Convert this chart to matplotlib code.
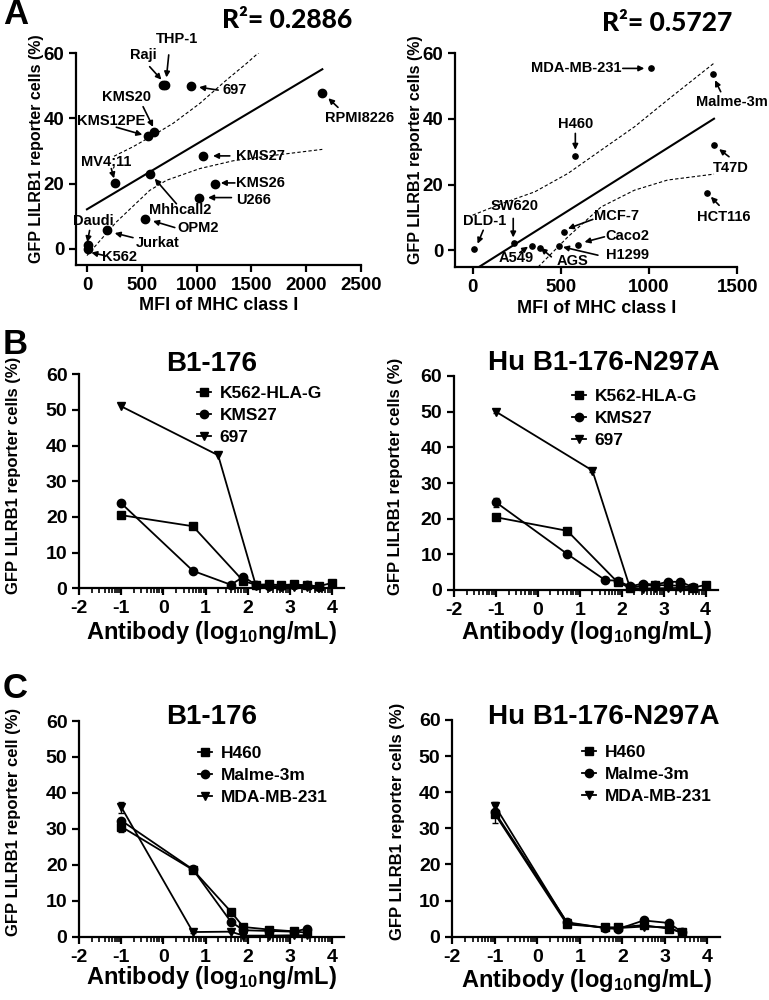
import numpy as np
import matplotlib
matplotlib.use('Agg')
import matplotlib.pyplot as plt
from matplotlib.lines import Line2D
from matplotlib.ticker import FixedLocator

plt.rcParams['font.family'] = ['Liberation Sans', 'DejaVu Sans']
plt.rcParams['font.weight'] = 'bold'
plt.rcParams['axes.labelweight'] = 'bold'
plt.rcParams['axes.titleweight'] = 'bold'
plt.rcParams['axes.unicode_minus'] = False
plt.rcParams['mathtext.fontset'] = 'custom'
plt.rcParams['mathtext.rm'] = 'Liberation Sans:bold'
plt.rcParams['mathtext.bf'] = 'Liberation Sans:bold'
plt.rcParams['mathtext.it'] = 'Liberation Sans:bold'

# ---------------- Panel A data ----------------
heme_names = ['Daudi', 'K562', 'Jurkat', 'OPM2', 'Mhhcall2', 'MV4;11', 'KMS12PE', 'KMS20',
              'Raji', 'THP-1', '697', 'RPMI8226', 'KMS27', 'KMS26', 'U266']
heme_mfi = [10, 5, 183, 533, 578, 259, 554, 609, 691, 716, 953, 2147, 1060, 1166, 1023]
heme_gfp = [1.0, 0.0, 5.6, 9.0, 22.9, 20.2, 34.7, 35.7, 50.2, 50.2, 49.9, 47.9, 28.5, 20.0, 15.7]
heme_fit = (12.1, 0.02003)       # intercept, slope
heme_fit_x = [0, 2147]
heme_r2 = '0.2886'
heme_band_up_x = [247, 420, 633, 786, 1029, 1273, 1456, 1577]
heme_band_up_y = [28.4, 31.3, 35.4, 38.5, 44.6, 51.8, 56.9, 60.5]
heme_band_lo_x = [0, 268, 572, 725, 1029, 1334, 1638, 2147]
heme_band_lo_y = [-2.1, 8.2, 17.9, 21.0, 24.6, 27.0, 28.4, 30.5]

solid_names = ['DLD-1', 'SW620', 'A549', 'AGS', 'H1299', 'MCF-7', 'Caco2', 'H460',
               'MDA-MB-231', 'Malme-3m', 'T47D', 'HCT116']
solid_mfi = [6, 235, 335, 384, 491, 516, 597, 582, 1011, 1365, 1370, 1327]
solid_gfp = [0.5, 2.3, 1.2, 0.8, 1.4, 5.6, 1.7, 28.8, 55.4, 53.6, 32.2, 17.5]
solid_fit = (-6.3, 0.0339)
solid_fit_x = [0, 1368]
solid_r2 = '0.5727'
solid_band_up_x = [0, 164, 352, 540, 728, 917, 1105, 1368]
solid_band_up_y = [10.7, 14.2, 17.8, 23.4, 30.5, 37.6, 45.8, 57.0]
solid_band_lo_x = [371, 540, 728, 917, 1105, 1368]
solid_band_lo_y = [-5.1, 4.1, 13.2, 18.3, 21.4, 23.2]

# ---------------- Panel B data ----------------
b_labels = ['K562-HLA-G', 'KMS27', '697']
b1_x = [[-1, 0.7, 1.9, 2.2, 2.5, 2.8, 3.1, 3.4, 3.7, 4.0],
        [-1, 0.7, 1.6, 1.9, 2.2, 2.5, 2.8, 3.1, 3.4, 3.7],
        [-1, 1.3, 2.2, 2.5, 2.8, 3.1, 3.4, 3.7]]
b1_y = [[20.5, 17.4, 2.0, 1.0, 1.1, 0.9, 1.1, 0.8, 0.6, 1.5],
        [23.8, 4.9, 1.0, 3.2, 1.0, 0.6, 0.6, 0.8, 0.9, 0.4],
        [51.0, 37.3, 0.6, 0.4, 0.4, 0.5, 0.5, 0.4]]
b2_x = b1_x
b2_y = [[20.4, 16.6, 2.2, 0.6, 1.2, 1.4, 1.3, 1.2, 0.7, 1.4],
        [24.6, 10.1, 2.8, 2.6, 1.0, 1.8, 1.5, 2.3, 2.3, 0.8],
        [50.0, 33.5, 0.5, 0.4, 0.5, 0.5, 0.6, 0.5]]
b2_err = [[0.4, 0.3, 0.2, 0.1, 0.1, 0.1, 0.1, 0.1, 0.1, 0.1],
          [1.3, 0.4, 0.2, 0.2, 0.1, 0.1, 0.1, 0.1, 0.1, 0.1],
          [0.5, 0.4, 0.1, 0.1, 0.1, 0.1, 0.1, 0.1]]

# ---------------- Panel C data ----------------
c_labels = ['H460', 'Malme-3m', 'MDA-MB-231']
c_x = [-1, 0.7, 1.6, 1.9, 2.5, 3.1, 3.4]
c1_y = [[30.6, 18.6, 7.0, 2.7, 2.0, 1.5, 1.1],
        [32.3, 18.7, 4.2, 1.8, 1.6, 1.4, 2.2],
        [36.0, 1.3, 1.4, 0.3, 0.3, 0.4, 0.4]]
c1_err = [[1.5, 0.3, 0.3, 0.2, 0.1, 0.1, 0.1],
          [0.5, 0.3, 0.3, 0.1, 0.1, 0.1, 0.1],
          [1.5, 0.2, 0.2, 0.1, 0.1, 0.1, 0.1]]
c2_y = [[34.0, 3.4, 2.6, 2.6, 3.2, 2.2, 1.2],
        [34.5, 4.0, 2.4, 2.1, 4.5, 3.8, 1.3],
        [36.3, 3.8, 2.4, 2.4, 2.8, 2.6, 1.0]]
c2_err = [[2.5, 0.3, 0.2, 0.2, 0.2, 0.2, 0.1],
          [0.5, 0.3, 0.2, 0.2, 0.3, 0.3, 0.1],
          [1.0, 0.3, 0.2, 0.2, 0.2, 0.2, 0.1]]

# ---------------- layout ----------------
W, H = 769, 1000
fig = plt.figure(figsize=(7.69, 10), dpi=100)


def px(x0, y0, x1, y1):
    return [x0 / W, 1 - y1 / H, (x1 - x0) / W, (y1 - y0) / H]


SP_LW = 1.6


def base_style(ax):
    for s in ['top', 'right']:
        ax.spines[s].set_visible(False)
    for s in ['left', 'bottom']:
        ax.spines[s].set_linewidth(SP_LW)
    ax.tick_params(which='major', direction='out', width=SP_LW, length=5)
    ax.tick_params(which='minor', direction='out', width=1.2, length=3.5)


arrow_kw = dict(arrowstyle='-|>', color='k', lw=1.2, mutation_scale=8,
                shrinkA=0, shrinkB=0)

# ---- A left ----
axA1 = fig.add_axes(px(76, 53.3, 361, 265))
base_style(axA1)
axA1.set_xlim(-100, 2500)
axA1.set_ylim(-5, 60)
axA1.set_xticks([0, 500, 1000, 1500, 2000, 2500])
axA1.set_yticks([0, 20, 40, 60])
axA1.tick_params(labelsize=13.5)
axA1.plot(heme_mfi, heme_gfp, 'o', color='k', ms=6, clip_on=False, zorder=3)
fx = np.array(heme_fit_x)
axA1.plot(fx, heme_fit[0] + heme_fit[1] * fx, color='k', lw=1.5)
axA1.plot(heme_band_up_x, heme_band_up_y, color='k', lw=0.8, ls=(0, (3, 2)))
axA1.plot(heme_band_lo_x, heme_band_lo_y, color='k', lw=0.8, ls=(0, (3, 2)))
axA1.set_xlabel('MFI of MHC class I', fontsize=13)
axA1.xaxis.set_label_coords(0.5, -0.189)
axA1.xaxis.label.set_va('center')
axA1.set_ylabel('GFP LILRB1 reporter cells (%)', fontsize=11.5)
axA1.yaxis.set_label_coords(-0.112, 0.55)
axA1.text(0.74, 1.155, 'R²= ' + heme_r2, transform=axA1.transAxes, ha='center',
          va='center', fontsize=19, family=['Lato', 'DejaVu Sans'], weight='black')

heme_ann = {
    'THP-1': ((825, 64.3), (746, 59.5), (725, 52.6)),
    'Raji': ((512, 59.5), (572, 55.9), (679, 51.9)),
    '697': ((1349, 48.7), (1197, 48.7), (1023, 49.6)),
    'RPMI8226': ((2491, 40.0), (2290, 43.4), (2202, 46.2)),
    'KMS20': ((359, 46.7), (512, 43.6), (603, 37.4)),
    'KMS12PE': ((222, 39.3), (268, 37.3), (505, 35.0)),
    'MV4;11': ((177, 26.9), (222, 24.6), (247, 21.6)),
    'KMS27': ((1583, 28.5), (1303, 28.5), (1150, 28.5)),
    'KMS26': ((1587, 20.2), (1349, 20.2), (1221, 20.2)),
    'U266': ((1516, 14.9), (1318, 15.7), (1105, 15.7)),
    'Mhhcall2': ((847, 11.8), (816, 13.8), (618, 21.5)),
    'OPM2': ((1014, 6.5), (801, 6.5), (603, 8.5)),
    'Jurkat': ((649, 1.8), (420, 3.4), (253, 4.8)),
    'Daudi': ((55, 8.4), (24, 5.6), (3, 2.0)),
    'K562': ((298, -2.4), (161, -2.1), (40, -1.2)),
}
for name in heme_names:
    tpos, tail, tip = heme_ann[name]
    axA1.text(tpos[0], tpos[1], name, ha='center', va='center', fontsize=10.5, clip_on=False)
    axA1.annotate('', xy=tip, xytext=tail, arrowprops=arrow_kw, annotation_clip=False)

# ---- A right ----
axA2 = fig.add_axes(px(455, 53.3, 737.3, 266.7))
base_style(axA2)
axA2.set_xlim(-100, 1500)
axA2.set_ylim(-5, 60)
axA2.set_xticks([0, 500, 1000, 1500])
axA2.set_yticks([0, 20, 40, 60])
axA2.tick_params(labelsize=13.5)
axA2.plot(solid_mfi, solid_gfp, 'o', color='k', ms=3.8, clip_on=False, zorder=3)
fx = np.linspace(solid_fit_x[0], solid_fit_x[1], 50)
axA2.plot(fx, solid_fit[0] + solid_fit[1] * fx, color='k', lw=1.5)
axA2.plot(solid_band_up_x, solid_band_up_y, color='k', lw=0.8, ls=(0, (3, 2)))
axA2.plot(solid_band_lo_x, solid_band_lo_y, color='k', lw=0.8, ls=(0, (3, 2)))
axA2.set_xlabel('MFI of MHC class I', fontsize=13)
axA2.xaxis.set_label_coords(0.5, -0.194)
axA2.xaxis.label.set_va('center')
axA2.set_ylabel('GFP LILRB1 reporter cells (%)', fontsize=11.5)
axA2.yaxis.set_label_coords(-0.113, 0.55)
axA2.text(0.75, 1.14, 'R²= ' + solid_r2, transform=axA2.transAxes, ha='center',
          va='center', fontsize=19, family=['Lato', 'DejaVu Sans'], weight='black')

solid_ann = {
    'MDA-MB-231': ((587, 55.4), (851, 55.4), (973, 55.4)),
    'Malme-3m': ((1472, 45.3), (1406, 48.3), (1374, 51.8)),
    'H460': ((582, 38.5), (582, 35.6), (582, 30.6)),
    'T47D': ((1462, 25.2), (1453, 28.5), (1397, 30.8)),
    'HCT116': ((1425, 10.2), (1397, 13.7), (1350, 16.3)),
    'SW620': ((239, 13.5), (230, 9.7), (230, 3.9)),
    'DLD-1': ((70, 9.0), (60, 6.1), (28, 2.0)),
    'MCF-7': ((813, 10.4), (681, 9.4), (540, 6.6)),
    'Caco2': ((879, 4.3), (747, 4.1), (634, 2.5)),
    'H1299': ((879, -1.5), (710, -1.5), (512, 1.0)),
    'AGS': ((568, -3.3), (446, -2.0), (386, 0.7)),
    'A549': ((248, -2.5), (267, -0.7), (314, 1.1)),
}
for name in solid_names:
    tpos, tail, tip = solid_ann[name]
    axA2.text(tpos[0], tpos[1], name, ha='center', va='center', fontsize=10.5, clip_on=False)
    axA2.annotate('', xy=tip, xytext=tail, arrowprops=arrow_kw, annotation_clip=False)

# ---- dose-response panels ----
markers = ['s', 'o', 'v']
minor_pos = [k + np.log10(m) for k in range(-2, 4) for m in range(2, 10)]
minor_pos = [v for v in minor_pos if v < 4.3]


def dose_panel(rect, xs, ys, errs, labels, title, title_xy, ylabel, ylab_x, leg_anchor, xlab_y):
    ax = fig.add_axes(rect)
    base_style(ax)
    ax.set_xlim(-2, 4.3)
    ax.set_ylim(0, 60)
    ax.set_xticks([-2, -1, 0, 1, 2, 3, 4])
    ax.xaxis.set_minor_locator(FixedLocator(minor_pos))
    ax.set_yticks([0, 10, 20, 30, 40, 50, 60])
    ax.tick_params(which='major', labelsize=14)
    handles = []
    for i in range(len(ys)):
        x = xs[i]
        y = ys[i]
        ms = 6 if markers[i] != 'v' else 6
        if errs is not None:
            ax.errorbar(x, y, yerr=errs[i], fmt='none', ecolor='k', elinewidth=1.0,
                        capsize=2.5, capthick=1.0, clip_on=False, zorder=3)
        ax.plot(x, y, color='k', lw=1.3, marker=markers[i], ms=ms, clip_on=False, zorder=4)
        handles.append(Line2D([], [], color='k', lw=1.3, marker=markers[i], ms=ms))
    ax.legend(handles, labels, loc='upper left', bbox_to_anchor=leg_anchor, frameon=False,
              handlelength=0.8, handletextpad=0.5, labelspacing=0.4, borderaxespad=0,
              borderpad=0, prop={'size': 12.5, 'weight': 'bold'})
    ax.set_title(title, fontsize=20, x=title_xy[0], y=title_xy[1], va='center', pad=0)
    ax.set_xlabel('Antibody (log$_{10}$ng/mL)', fontsize=17)
    ax.xaxis.set_label_coords(0.5, xlab_y)
    ax.xaxis.label.set_va('center')
    ax.set_ylabel(ylabel, fontsize=12)
    ax.yaxis.set_label_coords(ylab_x, 0.53)
    return ax


axB1 = dose_panel(px(79.3, 374.3, 344.4, 588.3), b1_x, b1_y, None, b_labels, 'B1-176',
                  (0.5, 1.05), 'GFP LILRB1 reporter cells (%)', -0.219, (0.445, 0.945), -0.206)
axB2 = dose_panel(px(454, 376, 718.2, 590), b2_x, b2_y, b2_err, b_labels, 'Hu B1-176-N297A',
                  (0.568, 1.06), 'GFP LILRB1 reporter cells (%)', -0.193, (0.447, 0.94), -0.2)
cx = [c_x] * 3
axC1 = dose_panel(px(79.3, 721, 344.4, 936.7), cx, c1_y, c1_err, c_labels, 'B1-176',
                  (0.5, 1.02), 'GFP LILRB1 reporter cell (%)', -0.219, (0.449, 0.885), -0.19)
axC2 = dose_panel(px(452.3, 720, 720, 936.7), cx, c2_y, c2_err, c_labels, 'Hu B1-176-N297A',
                  (0.567, 1.015), 'GFP LILRB1 reporter cells (%)', -0.175, (0.485, 0.885), -0.2)

# panel letters
for letter, (lx, ly) in {'A': (16, 15), 'B': (15, 345), 'C': (15, 688)}.items():
    fig.text(lx / W, 1 - ly / H, letter, fontsize=25, weight='bold', ha='center', va='center')

fig.savefig('out.png', dpi=100)
